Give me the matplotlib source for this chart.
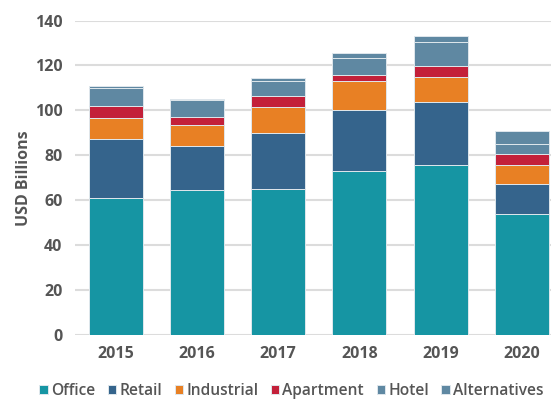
import matplotlib.pyplot as plt
import numpy as np

years = ['2015', '2016', '2017', '2018', '2019', '2020']
office = [61.0, 64.4, 65.2, 73.0, 75.8, 53.8]
retail = [26.2, 19.9, 24.7, 27.0, 27.9, 13.5]
industrial = [9.2, 9.3, 11.6, 12.9, 11.3, 8.5]
apartment = [5.5, 3.4, 4.9, 2.7, 4.9, 4.8]
hotel = [8.2, 7.4, 6.5, 7.8, 10.6, 4.6]
alternatives = [0.6, 0.6, 1.3, 2.2, 2.4, 5.6]

series = [
    ('Office', office, '#1695a3'),
    ('Retail', retail, '#35648c'),
    ('Industrial', industrial, '#e88024'),
    ('Apartment', apartment, '#c3203a'),
    ('Hotel', hotel, '#5f88a2'),
    ('Alternatives', alternatives, '#5f88a2'),
]

plt.rcParams['font.family'] = ['Open Sans', 'DejaVu Sans']
text_color = '#555555'

fig = plt.figure(figsize=(5.51, 4.03), dpi=100)
ax = fig.add_axes([0.136, 0.169, 0.864, 0.780])

x = np.arange(len(years))
bottom = np.zeros(len(years))
for name, vals, color in series:
    ax.bar(x, vals, width=0.665, bottom=bottom, color=color, label=name,
           edgecolor='#dfe7ec', linewidth=0.7, zorder=3)
    bottom += np.array(vals)

ax.set_ylim(0, 140)
ax.set_xlim(-0.5, 5.36)
ax.set_yticks(range(0, 141, 20))
ax.set_xticks(x)
ax.set_xticklabels(years)
ax.grid(axis='y', color='#dcdcdc', linewidth=1.5, zorder=0)
for s in ax.spines.values():
    s.set_visible(False)
ax.tick_params(axis='y', length=0, pad=9, labelsize=11.5, labelcolor=text_color)
ax.tick_params(axis='x', length=0, pad=8, labelsize=11.5, labelcolor=text_color)
for lbl in ax.get_xticklabels() + ax.get_yticklabels():
    lbl.set_fontweight('bold')
ax.set_ylabel('USD Billions', fontsize=11.5, fontweight='bold', color=text_color, labelpad=2)

leg = fig.legend(loc='lower center', bbox_to_anchor=(0.529, -0.025), ncol=6, frameon=False,
                 handlelength=0.55, handleheight=0.55, handletextpad=0.2, columnspacing=0.8,
                 prop={'size': 11.2, 'weight': 'semibold'})
for t in leg.get_texts():
    t.set_color(text_color)

fig.savefig('out.png', dpi=100)
